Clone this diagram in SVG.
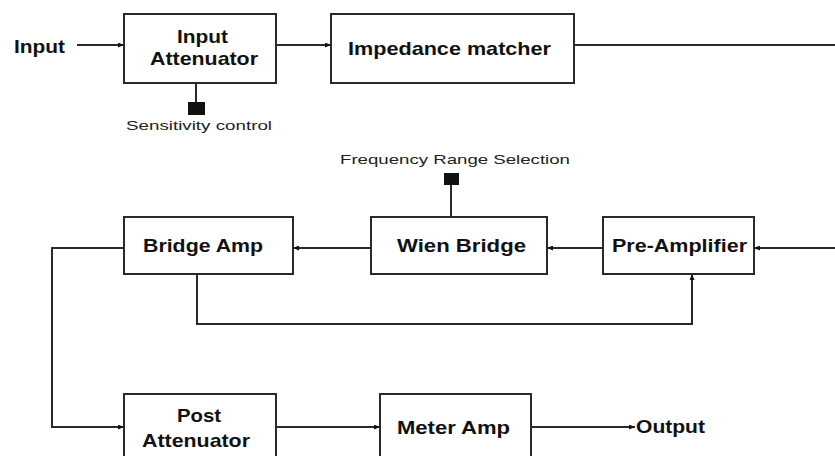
<svg xmlns="http://www.w3.org/2000/svg" width="835" height="456" viewBox="0 0 835 456">
<style>
.box{fill:#fff;stroke:#2a2a2a;stroke-width:2}
.t{font-family:"Liberation Sans",Arial,sans-serif;font-weight:bold;font-size:19px;fill:#111}
.s{font-family:"Liberation Sans",Arial,sans-serif;font-size:13.5px;fill:#222}
.c{fill:none;stroke:#2a2a2a;stroke-width:2}
.knob{fill:#111}
</style>
<defs>
<marker id="ah" markerUnits="userSpaceOnUse" markerWidth="6" markerHeight="5" refX="6" refY="2.5" orient="auto">
<path d="M0,0 L6,2.5 L0,5 Z" fill="#111"/>
</marker>
</defs>
<rect width="835" height="456" fill="#fff"/>
<g id="connectors">
<path class="c" d="M77,45 H124" marker-end="url(#ah)"/>
<path class="c" d="M276,45 H331" marker-end="url(#ah)"/>
<path class="c" d="M574,45 H835"/>
<path class="c" d="M835,248 H754" marker-end="url(#ah)"/>
<path class="c" d="M603,248 H547" marker-end="url(#ah)"/>
<path class="c" d="M371,248 H293" marker-end="url(#ah)"/>
<path class="c" d="M197,274 V324 H692 V274" marker-end="url(#ah)"/>
<path class="c" d="M124,248 H52 V427 H124" marker-end="url(#ah)"/>
<path class="c" d="M276,427 H380" marker-end="url(#ah)"/>
<path class="c" d="M531,427 H635" marker-end="url(#ah)"/>
<path class="c" d="M196,83 V103"/>
<path class="c" d="M451,217 V184"/>
</g>
<g id="input-label"><text class="t" x="14" y="53" textLength="51" lengthAdjust="spacingAndGlyphs">Input</text></g>
<g id="input-attenuator">
<rect class="box" x="124" y="14" width="152" height="69"/>
<text class="t" x="177" y="43" textLength="51" lengthAdjust="spacingAndGlyphs">Input</text>
<text class="t" x="150" y="65" textLength="108" lengthAdjust="spacingAndGlyphs">Attenuator</text>
</g>
<g id="sensitivity-control">
<rect class="knob" x="188" y="102" width="17" height="13"/>
<text class="s" x="126" y="130" textLength="146" lengthAdjust="spacingAndGlyphs">Sensitivity control</text>
</g>
<g id="impedance-matcher">
<rect class="box" x="331" y="14" width="243" height="69"/>
<text class="t" x="348" y="55" textLength="203" lengthAdjust="spacingAndGlyphs">Impedance matcher</text>
</g>
<g id="frequency-range-selection">
<rect class="knob" x="444" y="173" width="15" height="12"/>
<text class="s" x="340" y="164" textLength="230" lengthAdjust="spacingAndGlyphs">Frequency Range Selection</text>
</g>
<g id="bridge-amp">
<rect class="box" x="124" y="217" width="169" height="57"/>
<text class="t" x="143" y="252" textLength="120" lengthAdjust="spacingAndGlyphs">Bridge Amp</text>
</g>
<g id="wien-bridge">
<rect class="box" x="371" y="217" width="176" height="57"/>
<text class="t" x="397" y="252" textLength="129" lengthAdjust="spacingAndGlyphs">Wien Bridge</text>
</g>
<g id="pre-amplifier">
<rect class="box" x="603" y="217" width="151" height="57"/>
<text class="t" x="612" y="252" textLength="135" lengthAdjust="spacingAndGlyphs">Pre-Amplifier</text>
</g>
<g id="post-attenuator">
<rect class="box" x="124" y="394" width="152" height="80"/>
<text class="t" x="177" y="422" textLength="44" lengthAdjust="spacingAndGlyphs">Post</text>
<text class="t" x="142" y="447" textLength="108" lengthAdjust="spacingAndGlyphs">Attenuator</text>
</g>
<g id="meter-amp">
<rect class="box" x="380" y="394" width="151" height="80"/>
<text class="t" x="397" y="434" textLength="113" lengthAdjust="spacingAndGlyphs">Meter Amp</text>
</g>
<g id="output-label"><text class="t" x="636" y="433" textLength="69" lengthAdjust="spacingAndGlyphs">Output</text></g>
</svg>
